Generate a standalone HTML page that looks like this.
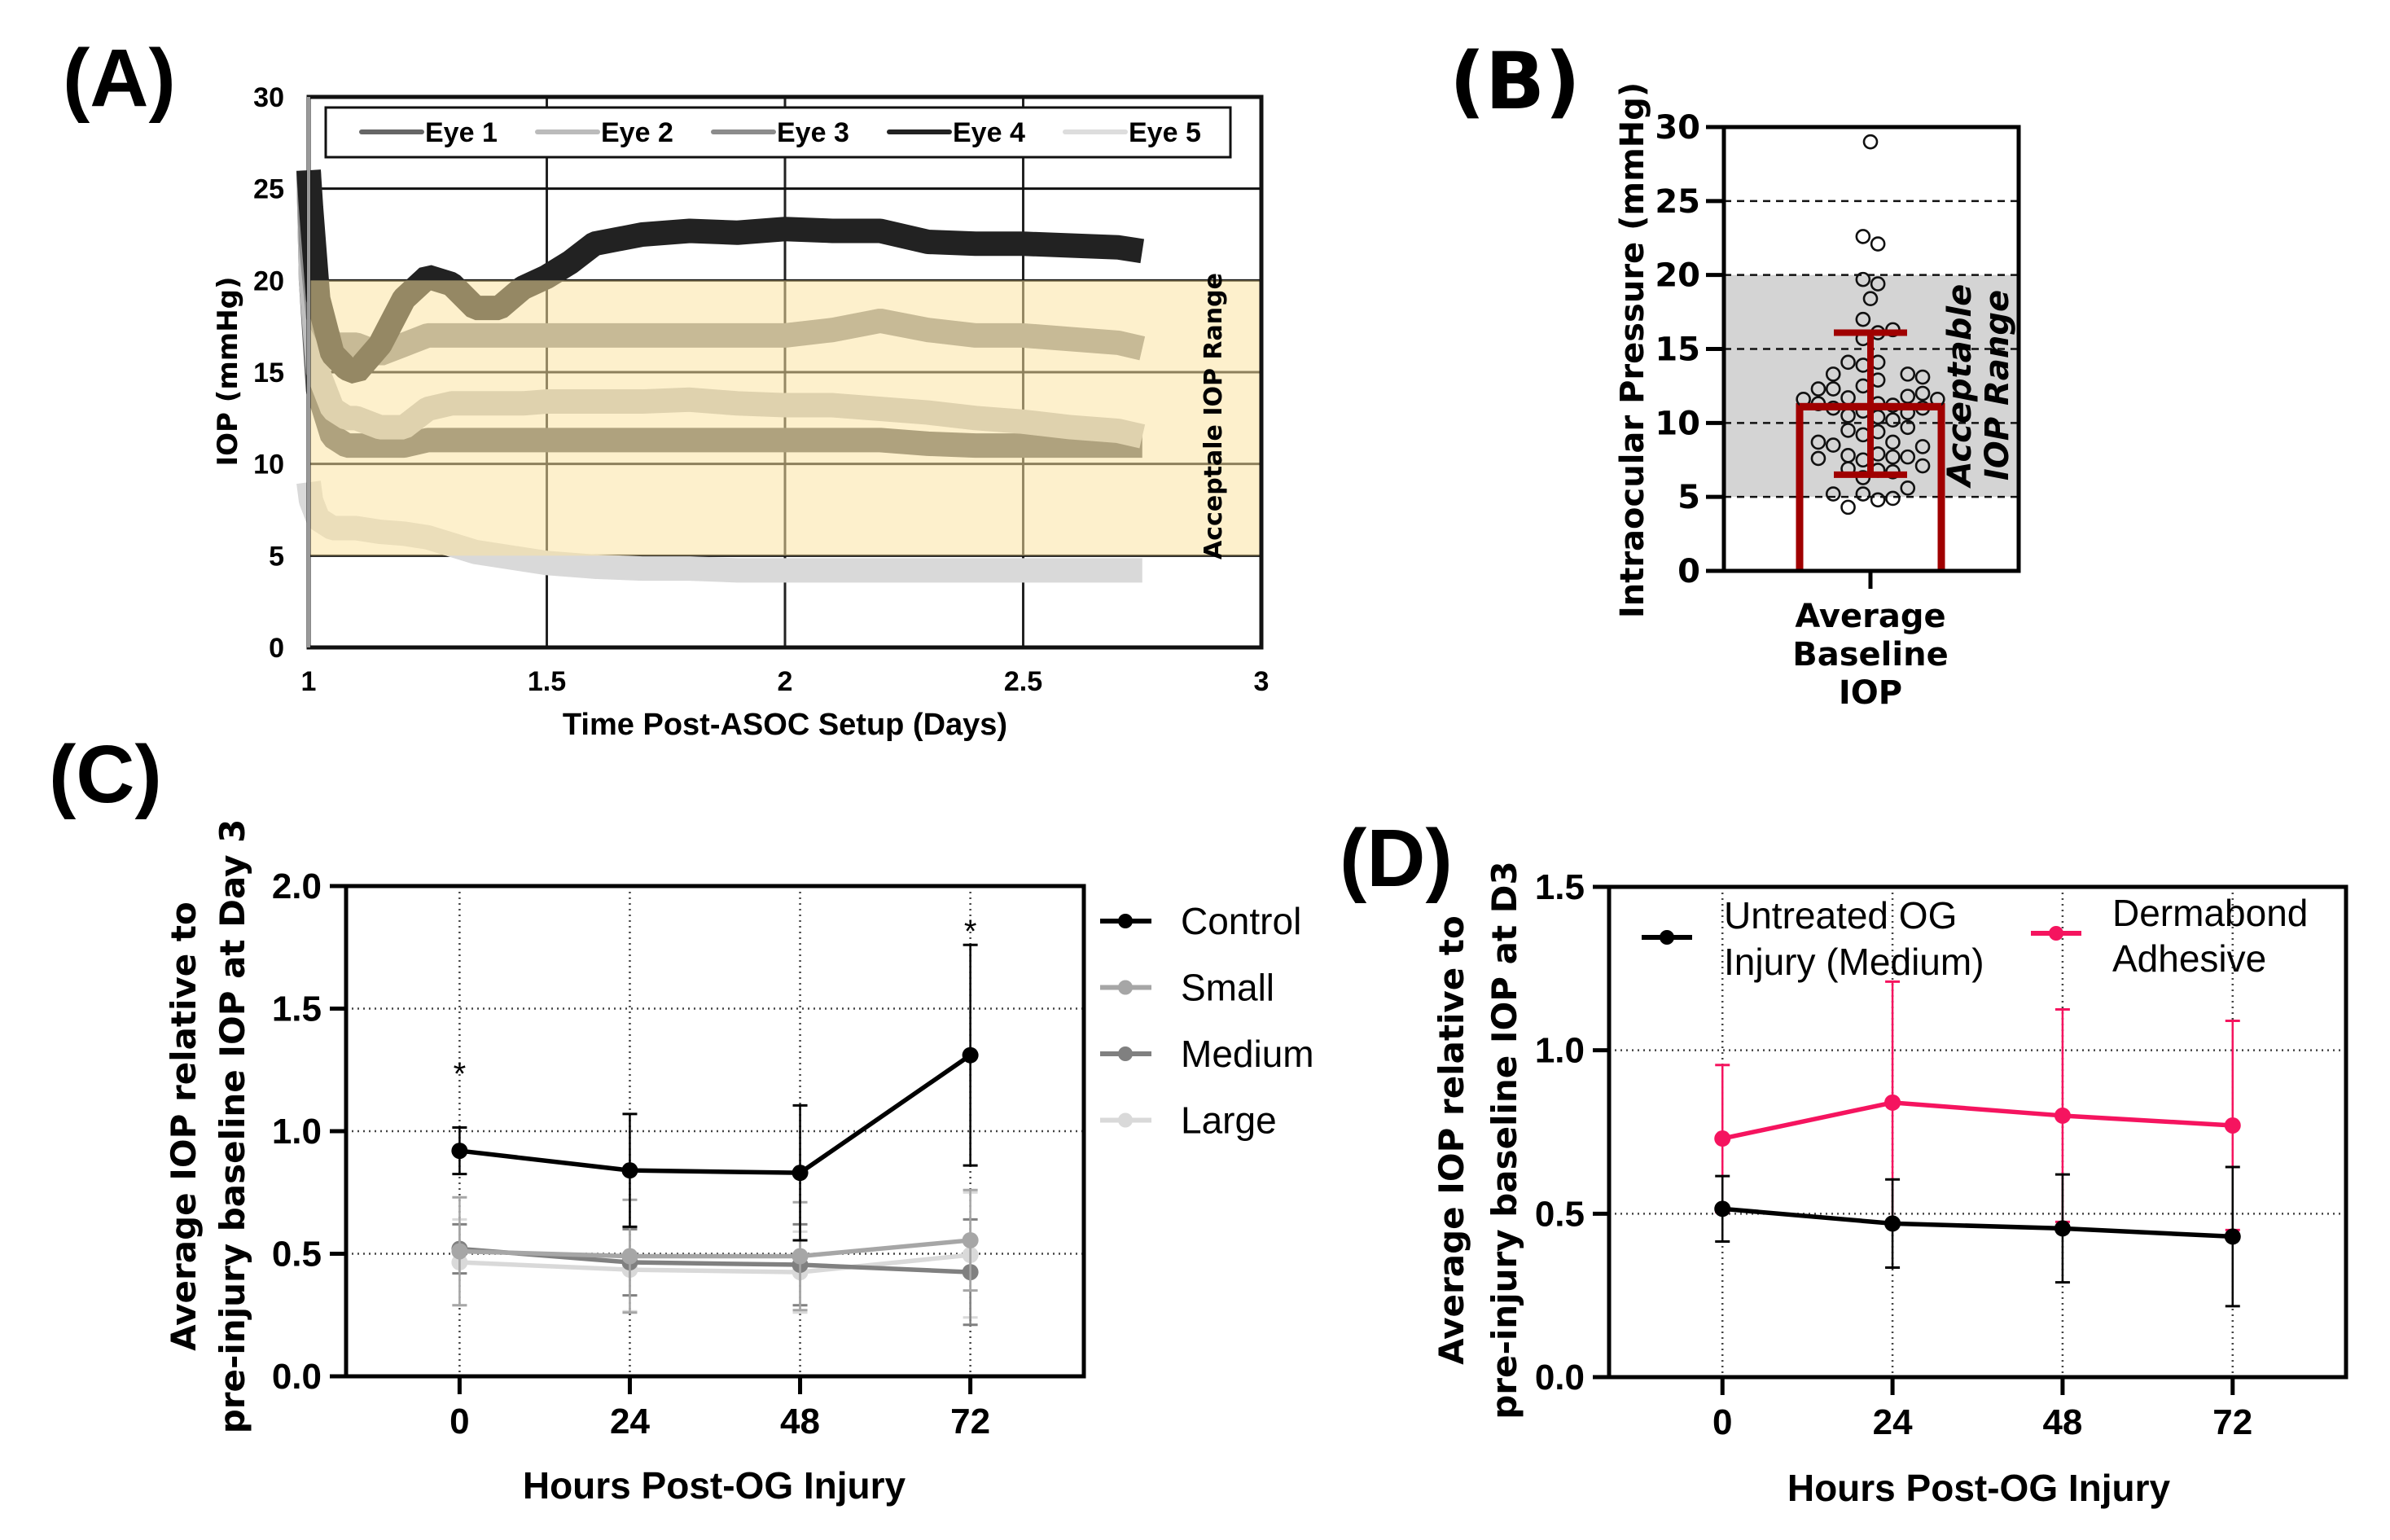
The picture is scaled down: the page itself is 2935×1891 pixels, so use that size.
<!DOCTYPE html>
<html><head><meta charset="utf-8">
<style>
html,body{margin:0;padding:0;background:#fff;}
svg{display:block;}
text{font-family:"Liberation Sans Narrow","Liberation Sans",sans-serif;}
.wide{font-family:"DejaVu Sans","Liberation Sans",sans-serif;font-weight:bold;}
</style></head>
<body>
<svg id="fig" width="2935" height="1891" viewBox="0 0 2935 1891" xmlns="http://www.w3.org/2000/svg">
<g id="pA"></g>
<g id="pB"></g>
<g id="pC"></g>
<g id="pD"></g>
</svg>
<script>
// ---------- Panel A data ----------
const aTimes=[1,1.005,1.02,1.05,1.08,1.1,1.15,1.2,1.25,1.3,1.35,1.4,1.45,1.5,1.55,1.6,1.7,1.8,1.9,2,2.1,2.2,2.3,2.4,2.5,2.6,2.7,2.75];
const aEye1=[26,20,14,11.5,11,11,11,11,11.3,11.3,11.3,11.3,11.3,11.3,11.3,11.3,11.3,11.3,11.3,11.3,11.3,11.3,11.1,11,11,11,11,11];
const aEye2=[26,20,15,13,12.5,12.5,12,12,13,13.3,13.3,13.3,13.3,13.4,13.4,13.4,13.4,13.5,13.3,13.2,13.2,13,12.8,12.5,12.3,12,11.8,11.5];
const aEye3=[26,22,18,16.5,16.5,16.5,16,16.5,17,17,17,17,17,17,17,17,17,17,17,17,17.3,17.8,17.3,17,17,16.8,16.6,16.3];
const aEye4=[26,24,19,16,15.2,15,16.5,19,20.2,19.8,18.5,18.5,19.6,20.2,21,22,22.5,22.7,22.6,22.8,22.7,22.7,22.1,22,22,21.9,21.8,21.6];
const aEye5=[9,8,7,6.5,6.5,6.5,6.3,6.2,6,5.6,5.2,5,4.8,4.6,4.5,4.4,4.3,4.3,4.2,4.2,4.2,4.2,4.2,4.2,4.2,4.2,4.2,4.2];
const aYTicks=[0,5,10,15,20,25,30];
const aXTicks=[1,1.5,2,2.5,3];
// ---------- Panel B data ----------
const bMean=11.1, bSdLow=6.5, bSdHigh=16.1;
const bJitter=[0,-0.5,0.5,-0.5,0.5,0,-0.5,0.5,1.5,-0.5,-1.5,-0.5,0.5,-2.5,2.5,3.5,-3.5,-2.5,-0.5,0.5,-4.5,-3.5,-1.5,2.5,3.5,4.5,-2.5,-0.5,0.5,1.5,2.5,3.5,-1.5,0.5,1.5,-1.5,-0.5,0.5,2.5,-3.5,-2.5,1.5,3.5,-1.5,-0.5,0.5,1.5,2.5,-3.5,3.5,-1.5,0.5,1.5,-0.5,-2.5,-0.5,2.5,0.5,1.5,-1.5];
const bValues=[29.0,22.6,22.1,19.7,19.4,18.4,17.0,16.1,16.3,15.7,14.1,13.9,14.1,13.3,13.3,13.1,12.3,12.3,12.5,12.9,11.6,11.3,11.7,11.8,12.0,11.6,11.0,10.8,11.3,11.2,10.7,11.0,10.5,10.4,10.2,9.5,9.2,9.4,9.7,8.7,8.5,8.7,8.4,7.8,7.5,7.9,7.7,7.7,7.6,7.1,6.9,6.8,6.7,6.3,5.2,5.2,5.6,4.8,4.9,4.3];
const bYTicks=[0,5,10,15,20,25,30];
// ---------- Panel C data ----------
const cHours=[0,24,48,72];
const cControl=[0.92,0.84,0.83,1.31];
const cControlSD=[0.095,0.23,0.275,0.45];
const cSmall=[0.51,0.49,0.49,0.555];
const cSmallSD=[0.22,0.23,0.22,0.205];
const cMedium=[0.52,0.465,0.455,0.425];
const cMediumSD=[0.10,0.135,0.165,0.215];
const cLarge=[0.465,0.435,0.425,0.495];
const cLargeSD=[0.175,0.17,0.165,0.255];
const cYTicks=[0,0.5,1,1.5,2];
const cStarHours=[0,72], cStarVals=[1.25,1.83];
// ---------- Panel D data ----------
const dHours=[0,24,48,72];
const dUntreated=[0.515,0.47,0.455,0.43];
const dUntreatedSD=[0.10,0.135,0.165,0.213];
const dDermabond=[0.73,0.84,0.80,0.77];
const dDermabondSD=[0.225,0.37,0.325,0.32];
const dYTicks=[0,0.5,1,1.5];

const NS="http://www.w3.org/2000/svg";
function mk(parent,tag,attrs,txt){const e=document.createElementNS(NS,tag);for(const k in attrs)e.setAttribute(k,attrs[k]);if(txt!==undefined)e.textContent=txt;parent.appendChild(e);return e;}

// ================= PANEL A =================
(function(){
const g=document.getElementById('pA');
const L=379,R=1549,T=119,B=795;
const X=t=>L+(t-1)/2*(R-L), Y=v=>B-v/30*(B-T);
let e;
e=mk(g,'text',{x:77,y:130,'font-size':100,'font-weight':'bold'},'(A)');

aXTicks.slice(1,-1).forEach(t=>{e=mk(g,'line',{x1:X(t),x2:X(t),y1:T,y2:B,stroke:'#222','stroke-width':3});
});
aYTicks.slice(1,-1).forEach(v=>{e=mk(g,'line',{x1:L,x2:R,y1:Y(v),y2:Y(v),stroke:'#111','stroke-width':3});
});
const series=[[aEye5,'#d9d9d9','eye-5'],[aEye1,'#595959','eye-1'],[aEye2,'#bfbfbf','eye-2'],[aEye3,'#8c8c8c','eye-3'],[aEye4,'#222222','eye-4']];
series.forEach(([vals,col,nm])=>{
  const pts=aTimes.map((t,i)=>X(t)+','+Y(vals[i])).join(' ');
  e=mk(g,'polyline',{points:pts,fill:'none',stroke:col,'stroke-width':30,'stroke-linejoin':'bevel','stroke-linecap':'butt'});
  
});
e=mk(g,'rect',{x:L,y:Y(20),width:R-L,height:Y(5)-Y(20),fill:'rgb(251,226,158)','fill-opacity':0.53});

e=mk(g,'rect',{x:L,y:T,width:R-L,height:B-T,fill:'none',stroke:'#111','stroke-width':5});

mk(g,'line',{x1:L,x2:L,y1:T,y2:B,stroke:'#999','stroke-width':4});
aYTicks.forEach(v=>{e=mk(g,'text',{x:349,y:Y(v)+12,'font-size':34,'font-weight':'bold','text-anchor':'end'},String(v));
});
aXTicks.forEach(t=>{e=mk(g,'text',{x:X(t),y:848,'font-size':34,'font-weight':'bold','text-anchor':'middle'},String(t));
});
e=mk(g,'text',{x:964,y:902,'font-size':38,'font-weight':'bold','text-anchor':'middle'},'Time Post-ASOC Setup (Days)');

e=mk(g,'text',{x:0,y:0,'font-size':34,'font-weight':'bold','text-anchor':'middle',class:'wide',transform:'translate(291,456) rotate(-90)'},'IOP (mmHg)');

e=mk(g,'text',{x:0,y:0,'font-size':30,'font-weight':'bold','text-anchor':'middle',class:'wide',transform:'translate(1500,511) rotate(-90)'},'Acceptale IOP Range');

e=mk(g,'rect',{x:400,y:132,width:1111,height:61,fill:'#fff',stroke:'#111','stroke-width':3});

const leg=[['Eye 1','#666'],['Eye 2','#bbb'],['Eye 3','#8c8c8c'],['Eye 4','#222'],['Eye 5','#ddd']];
leg.forEach((d,i)=>{const x0=444+i*216;
  e=mk(g,'line',{x1:x0,x2:x0+74,y1:162,y2:162,stroke:d[1],'stroke-width':6,'stroke-linecap':'round'});
  
  e=mk(g,'text',{x:x0+78,y:174,'font-size':34,'font-weight':'bold'},d[0]);
  
});
})();

// ================= PANEL B =================
(function(){
const g=document.getElementById('pB');
const L=2117,R=2479,T=156,B=701,CX=2297,COL=18.3;
const Y=v=>B-v/30*(B-T);
let e;
e=mk(g,'text',{x:1780,y:133,'font-size':96,'font-weight':'bold',class:'wide'},'(B)');

e=mk(g,'rect',{x:L,y:Y(20),width:R-L,height:Y(5)-Y(20),fill:'#d4d4d4'});

bYTicks.slice(1,-1).forEach(v=>{e=mk(g,'line',{x1:L,x2:R,y1:Y(v),y2:Y(v),stroke:'#111','stroke-width':2.5,'stroke-dasharray':'9,7'});
});
e=mk(g,'text',{x:0,y:0,'font-size':40,'font-weight':'bold','font-style':'italic','text-anchor':'middle',class:'wide',transform:'translate(2420,473) rotate(-90)'},'Acceptable');

e=mk(g,'text',{x:0,y:0,'font-size':40,'font-weight':'bold','font-style':'italic','text-anchor':'middle',class:'wide',transform:'translate(2466,473) rotate(-90)'},'IOP Range');

e=mk(g,'polyline',{points:`2210,${B} 2210,${Y(bMean)} 2384,${Y(bMean)} 2384,${B}`,fill:'none',stroke:'#a00000','stroke-width':9});

bValues.forEach((v,i)=>{e=mk(g,'circle',{cx:CX+bJitter[i]*COL,cy:Y(v),r:8,fill:'none',stroke:'#111','stroke-width':2.6});
});
e=mk(g,'line',{x1:CX,x2:CX,y1:Y(bSdLow),y2:Y(bSdHigh),stroke:'#a00000','stroke-width':8});

[bSdLow,bSdHigh].forEach(v=>{e=mk(g,'line',{x1:2252,x2:2342,y1:Y(v),y2:Y(v),stroke:'#a00000','stroke-width':8});
});
mk(g,'line',{x1:2210,x2:2384,y1:Y(bMean),y2:Y(bMean),stroke:'#a00000','stroke-width':9});
e=mk(g,'rect',{x:L,y:T,width:R-L,height:B-T,fill:'none',stroke:'#000','stroke-width':5});

bYTicks.forEach(v=>{mk(g,'line',{x1:L-22,x2:L,y1:Y(v),y2:Y(v),stroke:'#000','stroke-width':5});
e=mk(g,'text',{x:2088,y:Y(v)+14,'font-size':40,'font-weight':'bold','text-anchor':'end',class:'wide'},String(v));
});
mk(g,'line',{x1:CX,x2:CX,y1:B,y2:B+22,stroke:'#000','stroke-width':5});
['Average','Baseline','IOP'].forEach((s,i)=>{e=mk(g,'text',{x:CX,y:770+i*47,'font-size':40,'font-weight':'bold','text-anchor':'middle',class:'wide'},s);
});
e=mk(g,'text',{x:0,y:0,'font-size':40,'font-weight':'bold','text-anchor':'middle',class:'wide',transform:'translate(2018,430) rotate(-90)'},'Intraocular Pressure (mmHg)');

})();

function lineChart(g,cfg){
  const {L,R,T,B,ymax,yTicks,pre}=cfg;
  const X=h=>L+(h+16)/104*(R-L), Y=v=>B-v/ymax*(B-T);
  let e;
  yTicks.slice(1,-1).forEach(v=>{e=mk(g,'line',{x1:L,x2:R,y1:Y(v),y2:Y(v),stroke:'#444','stroke-width':2.5,'stroke-dasharray':'2,5'});
  });
  cfg.hours.forEach(h=>{e=mk(g,'line',{x1:X(h),x2:X(h),y1:T,y2:B,stroke:'#444','stroke-width':2.5,'stroke-dasharray':'2,5'});
  });
  cfg.series.forEach(s=>{
    s.vals.forEach((v,i)=>{const x=X(cfg.hours[i]);
      e=mk(g,'line',{x1:x,x2:x,y1:Y(v-s.sd[i]),y2:Y(v+s.sd[i]),stroke:s.col,'stroke-width':2.5});
      
      [v-s.sd[i],v+s.sd[i]].forEach(c=>{mk(g,'line',{x1:x-9,x2:x+9,y1:Y(c),y2:Y(c),stroke:s.col,'stroke-width':3});});
    });
    e=mk(g,'polyline',{points:s.vals.map((v,i)=>X(cfg.hours[i])+','+Y(v)).join(' '),fill:'none',stroke:s.col,'stroke-width':5.5});
    
    s.vals.forEach((v,i)=>{e=mk(g,'circle',{cx:X(cfg.hours[i]),cy:Y(v),r:10,fill:s.col});
    });
  });
  e=mk(g,'polyline',{points:`${L},${T} ${R},${T} ${R},${B} ${L},${B} ${L},${T}`,fill:'none',stroke:'#000','stroke-width':5});
  
  mk(g,'line',{x1:L-20,x2:L,y1:B,y2:B,stroke:'#000','stroke-width':5});
  yTicks.forEach(v=>{mk(g,'line',{x1:L-20,x2:L,y1:Y(v),y2:Y(v),stroke:'#000','stroke-width':5});
    e=mk(g,'text',{x:L-30,y:Y(v)+15,'font-size':44,'font-weight':'bold','text-anchor':'end'},v.toFixed(1));
    });
  cfg.hours.forEach(h=>{mk(g,'line',{x1:X(h),x2:X(h),y1:B,y2:B+22,stroke:'#000','stroke-width':5});
    e=mk(g,'text',{x:X(h),y:B+70,'font-size':44,'font-weight':'bold','text-anchor':'middle'},String(h));
    });
  return {X,Y};
}

(function(){
const g=document.getElementById('pC');
let e;
e=mk(g,'text',{x:60,y:985,'font-size':100,'font-weight':'bold'},'(C)');

const {X,Y}=lineChart(g,{L:425,R:1331,T:1088,B:1690,ymax:2,yTicks:cYTicks,pre:'c',hours:cHours,series:[
 {name:'large',vals:cLarge,sd:cLargeSD,col:'#d9d9d9'},
 {name:'medium',vals:cMedium,sd:cMediumSD,col:'#808080'},
 {name:'small',vals:cSmall,sd:cSmallSD,col:'#a6a6a6'},
 {name:'control',vals:cControl,sd:cControlSD,col:'#000'}]});
cStarHours.forEach((h,i)=>{e=mk(g,'text',{x:X(h),y:Y(cStarVals[i])+18,'font-size':40,'text-anchor':'middle'},'*');
});
const leg=[['Control','#000'],['Small','#a6a6a6'],['Medium','#808080'],['Large','#d9d9d9']];
leg.forEach((d,i)=>{const y=1131+i*81.5;
 e=mk(g,'line',{x1:1351,x2:1414,y1:y,y2:y,stroke:d[1],'stroke-width':6});
 
 mk(g,'circle',{cx:1382,cy:y,r:9,fill:d[1]});
 e=mk(g,'text',{x:1450,y:y+16,'font-size':46},d[0]);
 });
e=mk(g,'text',{x:877,y:1840,'font-size':46,'font-weight':'bold','text-anchor':'middle'},'Hours Post-OG Injury');

e=mk(g,'text',{x:0,y:0,'font-size':42,'text-anchor':'middle',class:'wide',transform:'translate(240,1383) rotate(-90)'},'Average IOP relative to');

e=mk(g,'text',{x:0,y:0,'font-size':42,'text-anchor':'middle',class:'wide',transform:'translate(300,1383) rotate(-90)'},'pre-injury baseline IOP at Day 3');

})();

(function(){
const g=document.getElementById('pD');
let e;
e=mk(g,'text',{x:1645,y:1088,'font-size':100,'font-weight':'bold'},'(D)');

lineChart(g,{L:1976,R:2881,T:1089,B:1691,ymax:1.5,yTicks:dYTicks,pre:'d',hours:dHours,series:[
 {name:'dermabond',vals:dDermabond,sd:dDermabondSD,col:'#f5145f'},
 {name:'untreated',vals:dUntreated,sd:dUntreatedSD,col:'#000'}]});
e=mk(g,'line',{x1:2016,x2:2078,y1:1151,y2:1151,stroke:'#000','stroke-width':6});

mk(g,'circle',{cx:2047,cy:1151,r:9,fill:'#000'});
e=mk(g,'text',{x:2117,y:1140,'font-size':46},'Untreated OG');

mk(g,'text',{x:2117,y:1197,'font-size':46},'Injury (Medium)');
e=mk(g,'line',{x1:2494,x2:2556,y1:1146,y2:1146,stroke:'#f5145f','stroke-width':6});

mk(g,'circle',{cx:2525,cy:1146,r:9,fill:'#f5145f'});
e=mk(g,'text',{x:2594,y:1137,'font-size':46},'Dermabond');

mk(g,'text',{x:2594,y:1193,'font-size':46},'Adhesive');
e=mk(g,'text',{x:2430,y:1843,'font-size':46,'font-weight':'bold','text-anchor':'middle'},'Hours Post-OG Injury');

e=mk(g,'text',{x:0,y:0,'font-size':42,'text-anchor':'middle',class:'wide',transform:'translate(1797,1400) rotate(-90)'},'Average IOP relative to');

e=mk(g,'text',{x:0,y:0,'font-size':42,'text-anchor':'middle',class:'wide',transform:'translate(1862,1400) rotate(-90)'},'pre-injury baseline IOP at D3');

})();
</script>
</body></html>
